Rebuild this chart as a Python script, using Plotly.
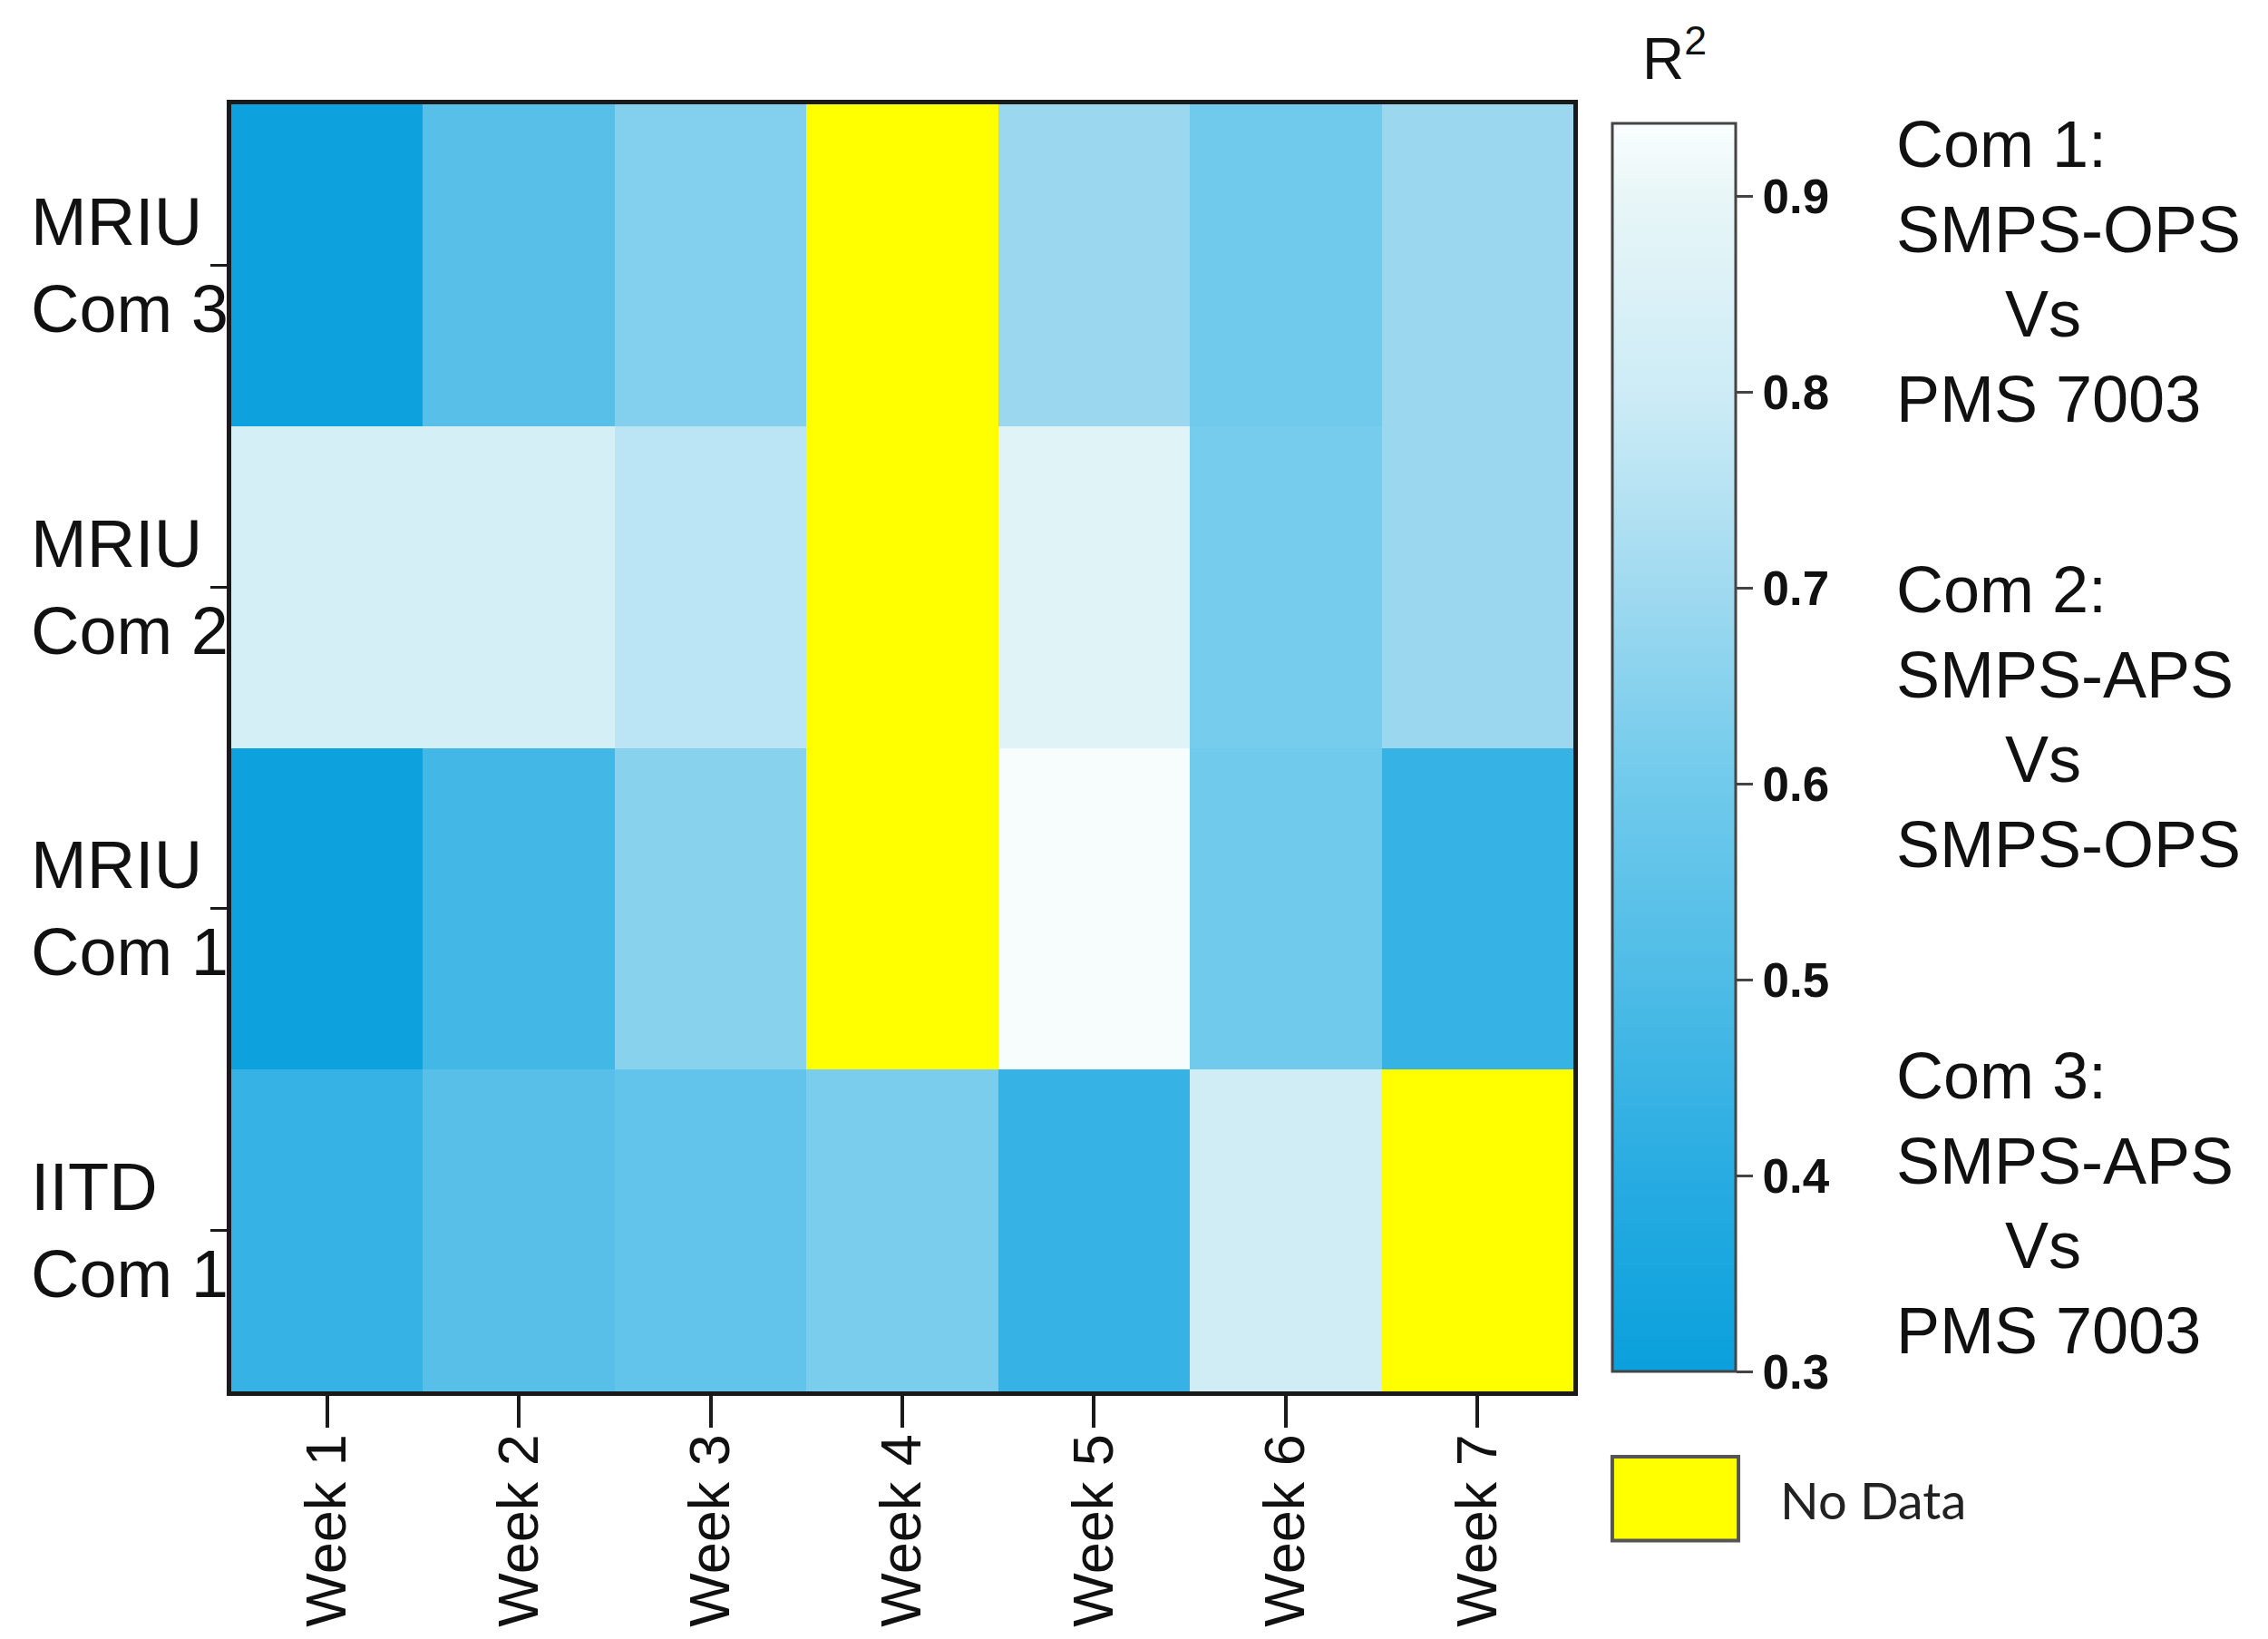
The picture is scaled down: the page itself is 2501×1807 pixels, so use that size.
import plotly.graph_objects as go

weeks = ["Week 1", "Week 2", "Week 3", "Week 4", "Week 5", "Week 6", "Week 7"]
sites = ["IITD Com 1", "MRIU Com 1", "MRIU Com 2", "MRIU Com 3"]
site_labels = ["IITD<br>Com 1", "MRIU<br>Com 1", "MRIU<br>Com 2", "MRIU<br>Com 3"]

iitd_com1 = [0.44, 0.53, 0.56, 0.62, 0.44, 0.81, None]
mriu_com1 = [0.31, 0.47, 0.65, None, 0.93, 0.60, 0.44]
mriu_com2 = [0.83, 0.83, 0.76, None, 0.87, 0.61, 0.69]
mriu_com3 = [0.31, 0.53, 0.64, None, 0.69, 0.60, 0.69]

z = [iitd_com1, mriu_com1, mriu_com2, mriu_com3]
missing = [[1 if v is None else None for v in row] for row in z]

cb_ticks = [0.3, 0.4, 0.5, 0.6, 0.7, 0.8, 0.9]
zmin, zmax = 0.3, 0.937

legend_texts = [
    "Com 1:<br>SMPS-OPS<br>\u00a0\u00a0\u00a0\u00a0\u00a0\u00a0Vs<br>PMS 7003",
    "Com 2:<br>SMPS-APS<br>\u00a0\u00a0\u00a0\u00a0\u00a0\u00a0Vs<br>SMPS-OPS",
    "Com 3:<br>SMPS-APS<br>\u00a0\u00a0\u00a0\u00a0\u00a0\u00a0Vs<br>PMS 7003",
]

def cs(v):
    return (v - zmin) / (zmax - zmin)

colorscale = [
    [cs(0.30), "rgb(10,160,220)"],
    [cs(0.40), "rgb(40,172,226)"],
    [cs(0.50), "rgb(78,188,230)"],
    [cs(0.60), "rgb(112,202,236)"],
    [cs(0.70), "rgb(160,218,240)"],
    [cs(0.80), "rgb(205,236,246)"],
    [cs(0.90), "rgb(232,246,247)"],
    [1.0, "rgb(250,254,254)"],
]

FONT = "Liberation Sans, Arial, sans-serif"

fig = go.Figure()
fig.add_trace(go.Heatmap(
    x=weeks, y=sites, z=z, zmin=zmin, zmax=zmax, colorscale=colorscale,
    hoverongaps=False,
    colorbar=dict(
        x=1.029, xanchor="left", y=0.985, yanchor="top",
        len=1376, lenmode="pixels", thickness=136, thicknessmode="pixels",
        xpad=0, ypad=0,
        outlinewidth=3, outlinecolor="#444",
        ticks="outside", ticklen=18, tickwidth=3, tickcolor="#444",
        tickvals=cb_ticks, tickformat=".1f", tickprefix="\u2002",
        tickfont=dict(family=FONT, size=53, color="#111", weight="bold"),
    ),
))
fig.add_trace(go.Heatmap(
    x=weeks, y=sites, z=missing, zmin=0, zmax=1,
    colorscale=[[0, "#FFFF00"], [1, "#FFFF00"]], showscale=False,
    hoverinfo="skip",
))

for s, lab in zip(sites, site_labels):
    fig.add_annotation(x=-0.1507, xref="paper", y=s, yref="y", text=lab,
                       showarrow=False, xanchor="left", yanchor="middle", align="left",
                       font=dict(family=FONT, size=74, color="#111"))

for t, yy in zip(legend_texts, [0.870, 0.524, 0.146]):
    fig.add_annotation(x=1.239, xref="paper", y=yy, yref="paper", text=t,
                       showarrow=False, xanchor="left", yanchor="middle", align="left",
                       font=dict(family=FONT, size=72, color="#111"))

fig.add_annotation(x=1.075, xref="paper", y=1.039, yref="paper", text="R<sup>2</sup>",
                   showarrow=False, xanchor="center", yanchor="middle",
                   font=dict(family=FONT, size=64, color="#111"))

fig.add_shape(type="rect", xref="paper", yref="paper", x0=1.029, x1=1.123, y0=-0.116, y1=-0.0507,
              fillcolor="#FFFF00", line=dict(color="#555", width=4))
fig.add_annotation(x=1.153, xref="paper", y=-0.084, yref="paper", text="No Data",
                   showarrow=False, xanchor="left", yanchor="middle",
                   font=dict(family="Lato, sans-serif", size=56, color="#222"))

fig.update_xaxes(
    showline=True, mirror=True, linewidth=5, linecolor="#1a1a1a",
    ticks="outside", ticklen=35, tickwidth=4, tickcolor="#1a1a1a",
    tickangle=-90, tickfont=dict(family=FONT, size=63, color="#111"),
    ticklabelstandoff=-18,
    showgrid=False, zeroline=False,
)
fig.update_yaxes(
    showline=True, mirror=True, linewidth=5, linecolor="#1a1a1a",
    ticks="outside", ticklen=18, tickwidth=3, tickcolor="#1a1a1a",
    showticklabels=False, showgrid=False, zeroline=False,
)

fig.update_layout(
    width=2501, height=1807,
    margin=dict(l=255, r=766, t=115, b=273, autoexpand=False),
    paper_bgcolor="white", plot_bgcolor="white",
    showlegend=False,
)

fig.write_html("out.html", config={"displayModeBar": False},
               post_script="document.body.style.margin='0';")
